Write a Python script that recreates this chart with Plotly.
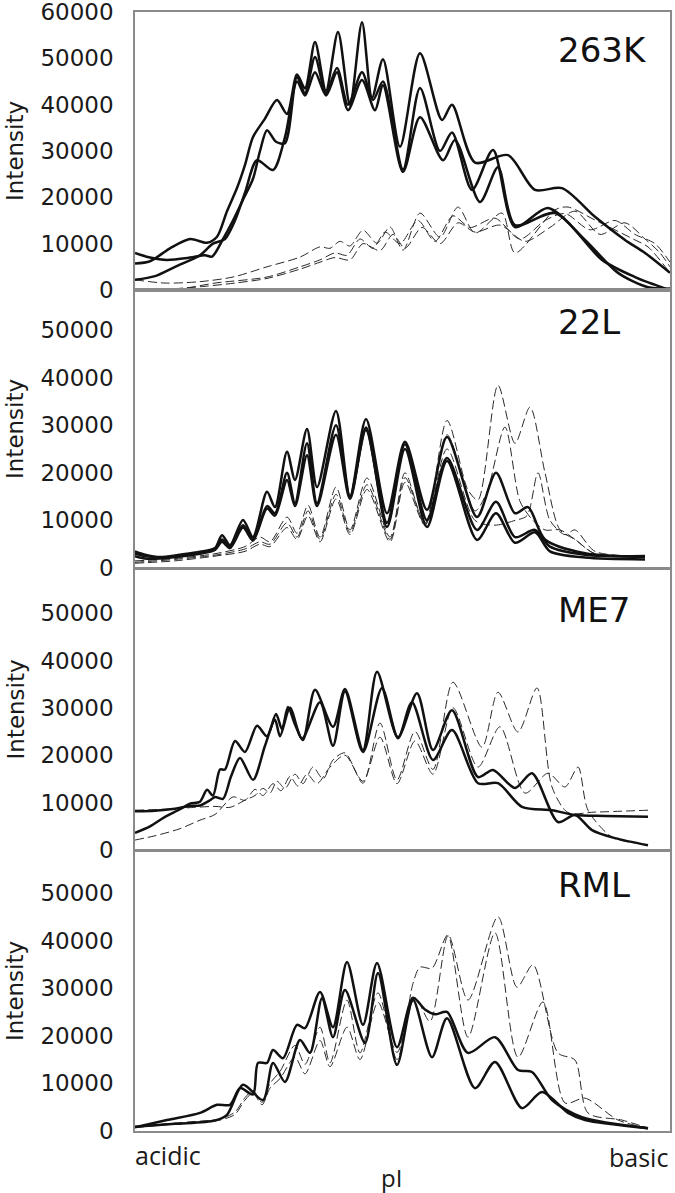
import plotly.graph_objects as go

# ---------------- data (x = relative pI position along strip, y = intensity) ----------------
# 263K
K263_S1_X = [0,15,35,55,72,82,92,102,110,118,130,142,152,162,170,180,191,203,215,227,237,248,265,285,307,317,340,373,400,427,460,490,510,535]
K263_S1_Y = [5700,6200,9000,11000,10200,11500,17000,22000,27000,33000,37000,41000,38000,46500,43500,53500,43000,55700,40000,57800,41500,49800,30900,51100,36700,40000,27500,29100,21600,22000,15800,10800,8000,3700]
K263_S2_X = [0,15,32,55,70,77,88,98,108,118,125,132,141,150,162,170,180,191,202,213,227,238,248,268,285,305,317,337,358,380,413,450,483,513,535]
K263_S2_Y = [8000,7000,6500,7000,7500,7200,11000,15000,19500,24000,30000,34500,32000,31700,46000,42500,50300,42500,47900,40000,47000,41000,45000,26000,43600,30000,34000,21600,30200,13600,17700,10800,3700,600,300]
K263_S3_X = [0,20,40,65,78,90,100,110,122,138,150,162,170,180,191,202,213,227,240,248,268,285,308,320,345,363,380,420,467,500,535]
K263_S3_Y = [2200,3000,5000,7500,10000,11000,15000,21000,28000,25900,33000,45000,42000,47000,42000,47000,38800,45300,38800,44200,25500,37300,28000,32400,19000,26500,14000,16600,6500,2800,0]
K263_D1_X = [0,30,65,98,132,165,185,195,205,215,228,242,255,268,285,305,323,340,367,380,420,433,460,500,513,535]
K263_D1_Y = [2200,1500,1800,2800,5000,7100,9300,9000,10500,9500,12900,10100,13600,8600,16600,11400,17900,12300,16600,8000,17300,17900,15100,10800,9300,3700]
K263_D2_X = [0,30,50,80,132,165,185,200,212,225,238,250,265,283,300,318,335,360,385,410,430,455,480,500,520,535]
K263_D2_Y = [300,200,400,1500,2800,5000,6500,8000,7500,11000,9000,12500,10000,15000,10500,16000,13500,15500,11000,15000,16500,13000,15000,12000,10000,6000]
K263_D3_X = [0,40,70,100,132,165,185,200,215,228,245,258,270,287,305,323,340,365,390,415,440,465,490,510,525,535]
K263_D3_Y = [200,300,800,1500,2500,4500,6000,7000,6500,10000,8500,12000,9000,13500,10000,14500,12500,14000,10500,13500,17000,12000,14500,11000,8000,5000]

# 22L
L22_S1_X = [0,10,25,45,65,80,87,95,108,118,132,140,152,160,172,182,201,215,231,252,270,292,312,342,361,380,393,410,450,510]
L22_S1_Y = [3500,2800,2300,2800,3400,4200,6900,4800,10100,6500,16000,12800,24400,18500,29200,17000,33000,15000,31300,11500,26500,12200,27500,10700,20000,11500,12800,6000,3100,2300]
L22_S2_X = [0,10,25,45,65,80,87,95,108,118,132,140,152,160,172,182,201,215,231,252,270,292,312,342,361,380,400,415,450,510]
L22_S2_Y = [3000,2500,2200,2600,3200,4000,6000,4500,9000,6000,13000,11500,20000,13600,26200,13600,30000,15000,29000,9500,26000,10000,23100,8000,13900,6500,8000,4500,2800,2500]
L22_S3_X = [0,10,25,45,65,80,87,95,108,118,132,140,152,160,172,182,201,215,231,252,270,292,312,342,361,380,400,415,450,510]
L22_S3_Y = [2500,2000,2000,2400,3000,3800,5500,4200,8500,5800,12500,11000,18500,13000,23700,13000,28000,14500,29500,8600,25000,8600,22500,5900,11500,5300,7500,3500,2200,1800]
L22_D1_X = [0,40,80,110,125,135,152,162,173,185,201,215,232,255,270,290,312,333,343,363,380,395,410,425,440,460,510]
L22_D1_Y = [1500,2000,3000,4500,6500,5500,10700,7300,13200,6500,17000,8000,18900,6500,20000,9000,31000,16400,14300,38400,26200,33800,20000,8000,6000,3000,2500]
L22_D2_X = [0,40,80,110,125,135,152,162,173,185,201,215,232,255,270,290,312,340,352,370,385,398,410,425,440,460,510]
L22_D2_Y = [1200,1800,2700,4000,5500,5000,9500,6500,12000,6000,15500,7500,17500,6000,19000,9500,28000,12000,16000,29600,14000,10000,8000,8000,6000,3000,2500]
L22_D3_X = [0,40,80,110,125,135,152,162,173,185,201,215,232,255,270,290,312,340,360,380,392,403,415,430,440,460,510]
L22_D3_Y = [1000,1500,2500,3500,5000,4500,8500,6000,11000,5500,14500,7000,16500,5500,18000,9000,25000,10000,9000,10000,11000,20000,10000,7000,8000,3500,2500]

# ME7
ME7_S1_X = [0,15,30,45,55,65,72,78,85,90,100,110,122,132,141,147,153,160,168,180,198,210,228,242,263,282,298,317,343,358,380,397,423,440,457,480,513]
ME7_S1_Y = [3600,5000,7000,8600,9800,10200,12700,11500,17000,17000,23000,20700,26200,24000,28700,25500,30200,26500,23200,33800,26000,34000,21100,37600,23800,33100,21100,29500,15400,16900,13100,16200,5900,7400,4200,2500,1000]
ME7_S2_X = [0,20,40,55,65,75,80,88,96,105,118,130,140,145,155,167,185,198,210,228,247,263,277,298,317,343,363,387,417,440,470,513]
ME7_S2_Y = [8200,8300,8700,9300,9400,10500,11200,10800,15500,19400,14800,22000,27500,24000,30000,23500,31200,22000,33500,20700,34200,23600,31200,19000,25300,14100,14100,9100,8400,7400,7200,7000]
ME7_D1_X = [0,30,60,80,95,110,120,128,135,142,150,160,168,178,188,198,210,228,245,262,280,298,318,347,363,383,402,417,433,460,513]
ME7_D1_Y = [8400,8600,9000,9200,9000,10500,11500,13000,12000,14500,13000,16000,14000,17500,15000,19000,20500,14100,26800,14800,25000,17000,35400,21700,33300,24900,34200,13300,7900,8000,8400]
ME7_D2_X = [0,20,45,65,80,98,110,120,128,138,146,155,163,172,182,195,210,228,245,262,280,298,318,343,365,390,413,430,443,453,477,500]
ME7_D2_Y = [2100,3000,4500,6300,7500,11200,10500,12800,11500,14000,12500,15500,13500,16000,14000,17500,20000,14500,23800,14000,23000,16000,30000,17500,26000,12000,16200,13300,17500,8400,2700,1500]

# RML
RML_S1_X = [0,32,65,82,95,105,118,123,132,138,148,162,170,185,198,212,228,242,262,278,290,300,312,333,360,383,397,417,447,513]
RML_S1_Y = [800,2300,3800,5500,5500,9000,7700,14300,14300,17000,15300,22300,21600,29200,21800,35500,22300,35300,17600,28000,25500,24500,25000,16400,19700,12800,12400,6500,2900,600]
RML_S2_X = [0,40,80,92,108,128,138,150,165,175,187,198,210,230,243,262,278,297,312,340,360,387,407,433,450,513]
RML_S2_Y = [900,1500,2200,3400,9700,6500,14300,10300,19100,16400,27900,19700,29600,18500,33200,13900,27500,15500,23700,9000,14500,4800,8200,3800,2300,600]
RML_D1_X = [0,30,60,85,100,110,118,127,135,145,160,170,185,195,212,225,243,262,278,285,297,313,333,363,382,398,423,440,453,487,513]
RML_D1_Y = [900,1500,2000,2500,4000,7000,8500,6000,10000,12500,18000,14000,21800,14300,27500,16400,29000,15000,31000,34400,34200,41200,27500,45000,30200,34900,16400,14900,3800,2300,600]
RML_D2_X = [0,30,60,85,100,110,118,127,135,145,160,170,185,195,212,225,243,262,280,295,313,333,360,383,408,430,450,483,513]
RML_D2_Y = [700,1300,1800,2300,3500,6500,8000,5500,9000,11000,15500,12000,19000,13500,21800,15000,27000,16500,28000,23000,41000,19700,41600,15500,27100,5900,6900,2300,600]

PANEL_LABELS = ["263K", "22L", "ME7", "RML"]
Y_TICKS_TOP = [0, 10000, 20000, 30000, 40000, 50000, 60000]
Y_TICKS = [0, 10000, 20000, 30000, 40000, 50000]
X_LABELS = ["acidic", "basic"]
X_TITLE = "pI"
Y_TITLE = "Intensity"

panels = [
    ([(K263_S1_X, K263_S1_Y), (K263_S2_X, K263_S2_Y), (K263_S3_X, K263_S3_Y)],
     [(K263_D1_X, K263_D1_Y), (K263_D2_X, K263_D2_Y), (K263_D3_X, K263_D3_Y)]),
    ([(L22_S1_X, L22_S1_Y), (L22_S2_X, L22_S2_Y), (L22_S3_X, L22_S3_Y)],
     [(L22_D1_X, L22_D1_Y), (L22_D2_X, L22_D2_Y), (L22_D3_X, L22_D3_Y)]),
    ([(ME7_S1_X, ME7_S1_Y), (ME7_S2_X, ME7_S2_Y)],
     [(ME7_D1_X, ME7_D1_Y), (ME7_D2_X, ME7_D2_Y)]),
    ([(RML_S1_X, RML_S1_Y), (RML_S2_X, RML_S2_Y)],
     [(RML_D1_X, RML_D1_Y), (RML_D2_X, RML_D2_Y)]),
]

# ---------------- layout geometry ----------------
W, H = 675, 1193
ML, MR, MT, MB = 135, 5, 12, 62
PW, PH = W - ML - MR, H - MT - MB
panel_px = [(12, 290), (290, 568), (569, 850), (851, 1131)]
label_px = [50, 322, 610, 885]
y_tops = [60000, 58400, 59300, 58800]
X_MAX = 535

def pyp(py):
    return (H - MB - py) / PH

def pxp(px):
    return (px - ML) / PW

AXIS_COLOR = "#8a8a8a"
FONT = "DejaVu Sans"

fig = go.Figure()
layout = dict(
    width=W, height=H, paper_bgcolor="white", plot_bgcolor="white",
    margin=dict(l=ML, r=MR, t=MT, b=MB, autoexpand=False), showlegend=False,
)
annotations = []

for i, (solids, dashes) in enumerate(panels):
    n = i + 1
    xa = "x" if n == 1 else f"x{n}"
    ya = "y" if n == 1 else f"y{n}"
    for xs, ys in dashes:
        fig.add_trace(go.Scatter(x=xs, y=ys, mode="lines", xaxis=xa, yaxis=ya,
                                 line=dict(color="#2a2a2a", width=1, dash="9px,4px",
                                           shape="spline", smoothing=0.8),
                                 hoverinfo="skip"))
    for xs, ys in solids:
        fig.add_trace(go.Scatter(x=xs, y=ys, mode="lines", xaxis=xa, yaxis=ya,
                                 line=dict(color="#111111", width=2.5,
                                           shape="spline", smoothing=0.8),
                                 hoverinfo="skip"))
    top_px, bot_px = panel_px[i]
    ticks = Y_TICKS_TOP if i == 0 else Y_TICKS
    layout["xaxis" if n == 1 else f"xaxis{n}"] = dict(
        domain=[0, 1], range=[0, X_MAX], anchor=ya, showticklabels=False, ticks="",
        showgrid=False, zeroline=False, showline=True, linecolor=AXIS_COLOR,
        linewidth=1.5, mirror=True, fixedrange=True, automargin=False)
    layout["yaxis" if n == 1 else f"yaxis{n}"] = dict(
        domain=[pyp(bot_px), pyp(top_px)], range=[0, y_tops[i]], anchor=xa,
        tickvals=ticks, ticktext=[str(t) for t in ticks], ticks="",
        ticklabelstandoff=15, ticklabeloverflow="allow", automargin=False,
        tickfont=dict(family=FONT, size=23, color="#1a1a1a"),
        showgrid=False, zeroline=False, showline=True, linecolor=AXIS_COLOR,
        linewidth=1.5, mirror=True, fixedrange=True)
    # panel label
    annotations.append(dict(text=PANEL_LABELS[i], xref="paper", yref="paper",
                            x=pxp(556), y=pyp(label_px[i]), xanchor="left", yanchor="middle",
                            showarrow=False, font=dict(family=FONT, size=34, color="#111111")))
    # y-axis title
    annotations.append(dict(text=Y_TITLE, xref="paper", yref="paper", textangle=-90,
                            x=pxp(15), y=pyp((top_px + bot_px) / 2), xanchor="center",
                            yanchor="middle", showarrow=False,
                            font=dict(family=FONT, size=23, color="#1a1a1a")))

annotations.append(dict(text=X_LABELS[0], xref="paper", yref="paper", x=pxp(133), y=pyp(1155),
                        xanchor="left", yanchor="middle", showarrow=False,
                        font=dict(family="Open Sans", size=25, color="#1a1a1a")))
annotations.append(dict(text=X_LABELS[1], xref="paper", yref="paper", x=pxp(670), y=pyp(1157),
                        xanchor="right", yanchor="middle", showarrow=False,
                        font=dict(family="Open Sans", size=25, color="#1a1a1a")))
annotations.append(dict(text=X_TITLE, xref="paper", yref="paper", x=pxp(391), y=pyp(1177),
                        xanchor="center", yanchor="middle", showarrow=False,
                        font=dict(family="Open Sans", size=24, color="#1a1a1a")))

layout["annotations"] = annotations
fig.update_layout(**layout)
fig.write_html("out.html", config={"displayModeBar": False},
               post_script="document.body.style.margin='0px';document.body.style.overflow='hidden';")
